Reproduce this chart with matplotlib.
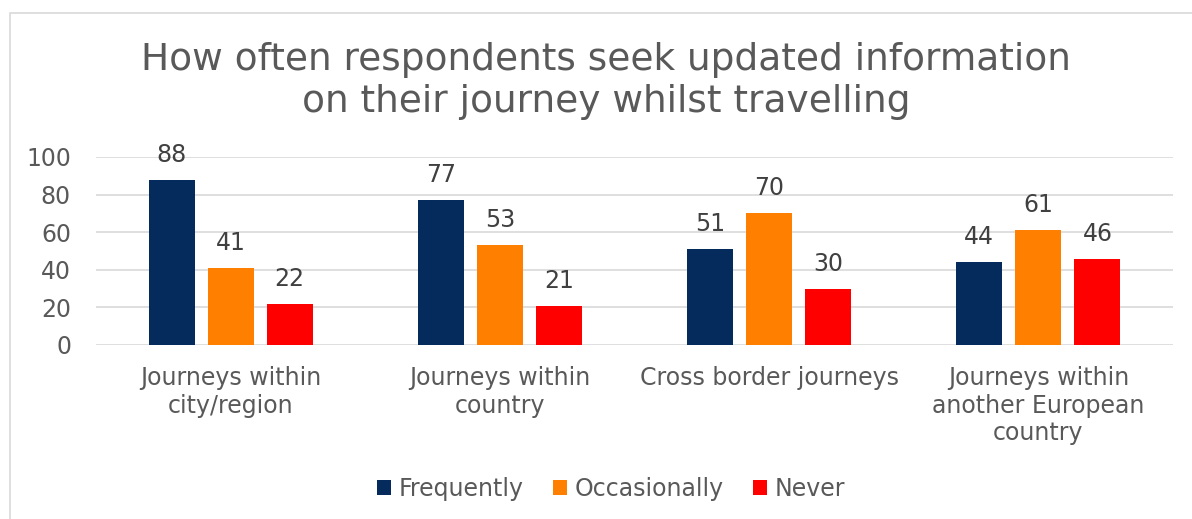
import numpy as np
import matplotlib.pyplot as plt
from matplotlib.patches import Rectangle

categories = ["Journeys within\ncity/region", "Journeys within\ncountry",
              "Cross border journeys", "Journeys within\nanother European\ncountry"]
series = ["Frequently", "Occasionally", "Never"]
frequently = [88, 77, 51, 44]
occasionally = [41, 53, 70, 61]
never = [22, 21, 30, 46]
colors = ["#052A5C", "#FF7F00", "#FF0000"]

fig = plt.figure(figsize=(11.92, 5.19), dpi=100)
ax = fig.add_axes([96 / 1192, 1 - 345 / 519, (1173 - 96) / 1192, (345 - 157) / 519])

# light chart border
fig.patches.append(Rectangle((10 / 1192, -0.1), 1.2, 1 - 13 / 519 + 0.1,
                             transform=fig.transFigure, fill=False,
                             edgecolor="#D9D9D9", linewidth=1.2))

x = np.arange(len(categories))
w = 46 / 269
step = 59 / 269
for i, (vals, name) in enumerate(zip([frequently, occasionally, never], series)):
    bars = ax.bar(x + (i - 1) * step, vals, w, color=colors[i], label=name, zorder=3)
    for b, v in zip(bars, vals):
        ax.text(b.get_x() + b.get_width() / 2, v + 13.3, str(v), ha="center", va="center",
                fontsize=17, color="#404040")

ax.set_xlim(-0.5, len(categories) - 0.5)
ax.set_ylim(0, 100)
ax.set_yticks(range(0, 101, 20))
ax.set_xticks(x)
ax.set_xticklabels(categories, linespacing=1.2)
ax.tick_params(axis="both", length=0, labelsize=17, labelcolor="#595959")
ax.tick_params(axis="x", pad=15)
ax.tick_params(axis="y", pad=18)
ax.grid(axis="y", color="#D9D9D9", linewidth=1.2, zorder=0)
for s in ax.spines.values():
    s.set_visible(False)

fig.text(606 / 1192, 1 - 81 / 519,
         "How often respondents seek updated information\non their journey whilst travelling",
         ha="center", va="center", fontsize=27, color="#595959", linespacing=1.25)

fig.legend(loc="center", bbox_to_anchor=(611 / 1192, 1 - 489 / 519), ncol=3,
           frameon=False, fontsize=17, labelcolor="#595959", handlelength=0.6,
           handleheight=0.6, handletextpad=0.3, columnspacing=1.25)

fig.savefig("out.png", dpi=100)
